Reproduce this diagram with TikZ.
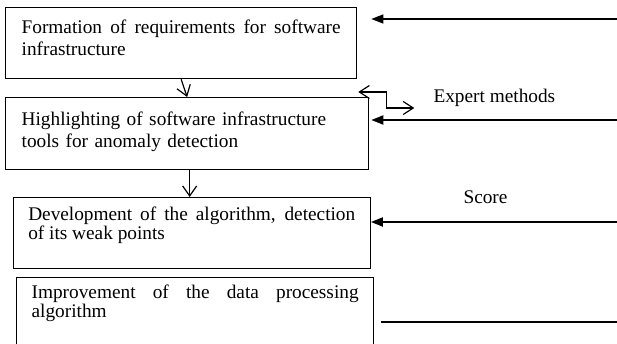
\documentclass[tikz,border=0pt]{standalone}
\usepackage{fontspec}
\setmainfont{Liberation Serif}
\usetikzlibrary{arrows.meta}

\begin{document}
\begin{tikzpicture}[x=1pt, y=-1pt,
  stage/.style={draw, line width=1.3pt, anchor=north west, inner ysep=0pt, font=\fontsize{19.3}{22}\selectfont},
  tight/.style={font=\fontsize{19.3}{17.5}\selectfont},
  lbl/.style={anchor=base west, font=\fontsize{19.3}{22}\selectfont},
  feed/.style={-{Triangle[length=12pt,width=9pt]}, line width=1.9pt},
  down/.style={-{Straight Barb[length=10pt,width=14pt]}, line width=1.2pt},
  both/.style={{Straight Barb[length=10pt,width=13pt]}-{Straight Barb[length=10pt,width=13pt]}, line width=1.2pt}]
\useasboundingbox (0,0) rectangle (617,344);
\clip (0,0) rectangle (617,344);
% stages
\node[stage, inner xsep=16pt, text width=319pt, align=justify, text height=26pt, text depth=45pt] (req) at (5,7) {Formation of requirements for software\linebreak infrastructure};
\node[stage, inner xsep=16pt, text width=331pt, align=left, text height=28pt, text depth=44pt] (tools) at (5,97) {Highlighting of software infrastructure tools for anomaly detection};
\node[stage, tight, inner xsep=15pt, text width=327pt, align=justify, text height=23pt, text depth=48pt] (dev) at (12.6,197) {Development of the algorithm, detection\linebreak of its weak points};
\node[stage, tight, inner xsep=15pt, text width=327pt, align=justify, text height=21pt, text depth=70pt] (imp) at (16,277) {Improvement of the data processing\linebreak algorithm};
% labels
\node[lbl] (expert) at (430,103) {Expert methods};
\node[lbl] (score) at (460,204) {Score};
% outer ends
\coordinate (inreq) at (617,19);
\coordinate (inexp) at (617,120);
\coordinate (inscore) at (617,222);
\coordinate (outimp) at (617,322);
% connectors
\draw[down] (req.south) -- (tools.north);
\draw[down] ([xshift=2.5]tools.south) -- ([xshift=2.5]tools.south |- dev.north);
\draw[feed, line width=1.3pt] (inreq) -- ([xshift=14]req.east |- inreq);
\draw[feed] (inexp) -- ([xshift=2]tools.east |- inexp);
\draw[feed] (inscore) -- (dev.east |- inscore);
\draw[line width=1.3pt] (outimp) -- ([xshift=7]imp.east |- outimp);
\draw[both] ([shift={(-11,-5)}]tools.north east) -- ++(28,0) -- ++(0,16) -- ++(28,0);
\end{tikzpicture}
\end{document}
